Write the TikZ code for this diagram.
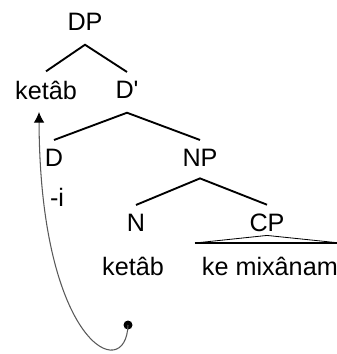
\documentclass[tikz,border=0pt]{standalone}
\usepackage{fontspec}
\setmainfont{Liberation Sans}
\usetikzlibrary{arrows.meta}

\begin{document}
\begin{tikzpicture}[x=0.03cm, y=-0.03cm, every node/.style={font=\fontsize{21.5}{24}\selectfont, inner sep=4pt, outer sep=4pt}]
\useasboundingbox (0,0) rectangle (337,354);

\node (DP) at (85,22) {DP};
\node (keta) at (46,90) {ket\^ab};
\node (Dbar) at (127,90) {D\textquotesingle};
\node (D) at (54,158) {D};
\node (NP) at (200,158) {NP};
\node (suffix) at (57,197) {-i};
\node (N) at (136,223) {N};
\node (CP) at (267,223) {CP};
\node (ketb) at (133,266) {ket\^ab};
\node[anchor=west, inner sep=0pt, outer sep=0pt] (kemix) at (202,266) {ke mix\^anam};
\coordinate (trace) at (39,112);
\coordinate (left) at (195,243);
\coordinate (right) at (340,243);
\fill (128,325) circle (4.5) coordinate (dot);

\draw[line width=1.6pt] (keta.north) -- ([yshift=-4pt]DP.south) -- (Dbar.north);
\draw[line width=1.6pt] (D.north) -- ([yshift=-4pt]Dbar.south) -- (NP.north);
\draw[line width=1.6pt] (N.north) -- ([yshift=-2pt]NP.south) -- (CP.north);
\draw[line width=0.7pt] (left) -- ([yshift=5pt]CP.south) -- (right);
\draw[line width=1.6pt] (left) -- (right);

\draw[gray!70!black, line width=0.9pt, -{Latex[black,length=9pt,width=9pt]}] (dot) .. controls (126,385) and (40,345) .. (trace);
\end{tikzpicture}
\end{document}
